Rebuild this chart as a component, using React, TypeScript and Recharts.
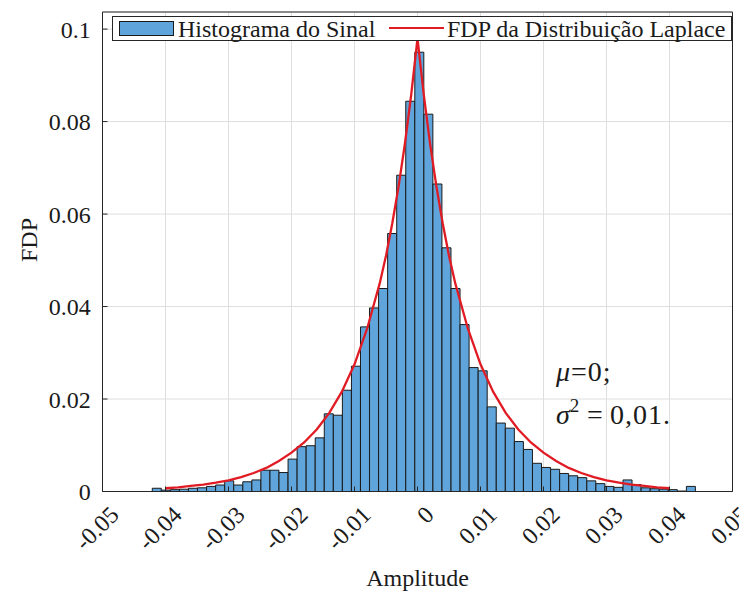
import { ComposedChart, Bar, Line, XAxis, YAxis, CartesianGrid, Label } from 'recharts';

// histogram bins: first edge and width
const binStart = -0.0421;
const binWidth = 0.001437;

const histValues = [
  0.0007, 0.0003, 0.0004, 0.0005, 0.0007, 0.0008, 0.0011, 0.0014, 0.0023, 0.0014,
  0.0021, 0.0025, 0.0046, 0.0046, 0.0041, 0.007, 0.0097, 0.0099, 0.0116, 0.0168,
  0.0165, 0.0219, 0.0271, 0.0356, 0.0397, 0.0439, 0.0558, 0.0684, 0.0844, 0.095,
  0.0816, 0.0665, 0.0527, 0.0439, 0.0361, 0.0268, 0.0261, 0.0183, 0.0148, 0.0137,
  0.0108, 0.0091, 0.0061, 0.0052, 0.0048, 0.0039, 0.0034, 0.003, 0.0023, 0.0017,
  0.0011, 0.0009, 0.0025, 0.0015, 0.0008, 0.0006, 0.0005, 0.0004, 0.0001, 0.0011,
];

// Laplace pdf curve
const pdfX = [
  -0.04, -0.038, -0.036, -0.034, -0.032, -0.03, -0.028, -0.026, -0.024, -0.022,
  -0.02, -0.018, -0.016, -0.014, -0.012, -0.01, -0.008, -0.006, -0.005, -0.004,
  -0.003, -0.002, -0.001, 0, 0.001, 0.002, 0.003, 0.004, 0.005, 0.006,
  0.008, 0.01, 0.012, 0.014, 0.016, 0.018, 0.02, 0.022, 0.024, 0.026,
  0.028, 0.03, 0.032, 0.034, 0.036, 0.038, 0.04,
];
const pdfY = [
  0.0007, 0.0009, 0.0012, 0.0015, 0.0019, 0.0024, 0.0031, 0.004, 0.0051, 0.0066,
  0.0084, 0.0106, 0.0134, 0.017, 0.0216, 0.0275, 0.0352, 0.045, 0.051, 0.058,
  0.066, 0.0752, 0.0858, 0.098, 0.0858, 0.0752, 0.066, 0.058, 0.051, 0.045,
  0.0352, 0.0275, 0.0216, 0.017, 0.0134, 0.0106, 0.0084, 0.0066, 0.0051, 0.004,
  0.0031, 0.0024, 0.0019, 0.0015, 0.0012, 0.0009, 0.0007,
];

const xTicks = [-0.05, -0.04, -0.03, -0.02, -0.01, 0, 0.01, 0.02, 0.03, 0.04, 0.05];
const yTicks = [0, 0.02, 0.04, 0.06, 0.08, 0.1];

const histName = 'Histograma do Sinal';
const pdfName = 'FDP da Distribuição Laplace';

const histData = histValues.map((h, i) => ({ x: binStart + (i + 0.5) * binWidth, h }));
const pdfData = pdfX.map((x, i) => ({ x, pdf: pdfY[i] }));

const W = 739;
const H = 585;
const PLOT = { left: 94.5, right: 724.5, top: 4, bottom: 483.5 };
const X_DOMAIN: [number, number] = [-0.05, 0.05];
const Y_DOMAIN: [number, number] = [0, 0.1037];
const SERIF = '"Liberation Serif", "Times New Roman", serif';
const INK = '#1a1a1a';
const BAR_FILL = '#5fa5db';
const RED = '#e01b24';

const barPx = ((PLOT.right - PLOT.left) * binWidth) / (X_DOMAIN[1] - X_DOMAIN[0]) - 0.05;

function XTick({ x, payload }: any) {
  const ax = x + 12;
  const ay = PLOT.bottom + 19;
  return (
    <text
      x={ax}
      y={ay}
      transform={`rotate(-45 ${ax} ${ay})`}
      textAnchor="end"
      dominantBaseline="central"
      fontFamily={SERIF}
      style={{ fontFamily: SERIF }}
      fontSize={24}
      fill={INK}
    >
      {String(payload.value)}
    </text>
  );
}

export default function App() {
  return (
    <div style={{ position: 'relative', width: W, height: H, background: '#fff', fontFamily: SERIF }}>
      <ComposedChart width={W} height={H} data={histData} margin={{ top: 3, right: 13.5, bottom: 0, left: 0 }}>
        <CartesianGrid xAxisId="bins" yAxisId="left" stroke="#dedede" />
        <XAxis
          xAxisId="bins"
          dataKey="x"
          type="number"
          domain={X_DOMAIN}
          ticks={xTicks}
          interval={0}
          allowDataOverflow
          height={101.5}
          tick={<XTick />}
          tickSize={-5}
          stroke="#262626"
        >
          <Label
            value="Amplitude"
            position="insideBottom"
            offset={7}
            style={{ fontFamily: SERIF, fontSize: 24, fill: INK }}
          />
        </XAxis>
        <XAxis xAxisId="pdf" dataKey="x" type="number" domain={X_DOMAIN} allowDataOverflow hide />
        <XAxis
          xAxisId="top"
          orientation="top"
          type="number"
          domain={X_DOMAIN}
          ticks={xTicks}
          allowDataOverflow
          height={1}
          tick={false}
          tickSize={-5}
          stroke="#262626"
        />
        <YAxis
          yAxisId="left"
          type="number"
          domain={Y_DOMAIN}
          ticks={yTicks}
          allowDataOverflow
          width={94.5}
          tickSize={-5}
          tickMargin={16.8}
          stroke="#262626"
          tick={{ fontFamily: SERIF, fontSize: 24, fill: INK, style: { fontFamily: SERIF } }}
        />
        <YAxis
          yAxisId="right"
          orientation="right"
          type="number"
          domain={Y_DOMAIN}
          ticks={yTicks}
          allowDataOverflow
          width={1}
          tick={false}
          tickSize={-5}
          stroke="#262626"
        />
        <Bar
          xAxisId="bins"
          yAxisId="left"
          dataKey="h"
          name={histName}
          fill={BAR_FILL}
          stroke={INK}
          strokeWidth={1}
          barSize={barPx}
          isAnimationActive={false}
        />
        <Line
          xAxisId="pdf"
          yAxisId="left"
          data={pdfData}
          dataKey="pdf"
          name={pdfName}
          type="linear"
          stroke={RED}
          strokeWidth={2.3}
          dot={false}
          isAnimationActive={false}
        />
      </ComposedChart>

      <svg width={W} height={H} style={{ position: 'absolute', left: 0, top: 0, pointerEvents: 'none' }}>
        <text
          x={21}
          y={232}
          transform="rotate(-90 21 232)"
          textAnchor="middle"
          dominantBaseline="central"
          fontFamily={SERIF}
          fontSize={24}
          fill={INK}
        >
          FDP
        </text>
        <text x={548} y={373} fontFamily={SERIF} fontSize={28} fill={INK} letterSpacing={1}>
          <tspan fontStyle="italic">μ</tspan>=0;
        </text>
        <text x={548} y={416} fontFamily={SERIF} fontSize={28} fill={INK}>
          <tspan fontStyle="italic">σ</tspan>
          <tspan dy={-12} fontSize={19}>2</tspan>
          <tspan dy={12} x={579}>=</tspan>
          <tspan x={602} letterSpacing={1}>0,01.</tspan>
        </text>
      </svg>

      <div
        style={{
          position: 'absolute',
          left: 104,
          top: 7.5,
          width: 620,
          height: 25.5,
          border: '1px solid #262626',
          background: '#fff',
          boxSizing: 'border-box',
          fontFamily: SERIF,
          fontSize: 24,
          color: INK,
          whiteSpace: 'nowrap',
        }}
      >
        <div
          style={{
            position: 'absolute',
            left: 6,
            top: 4,
            width: 55,
            height: 15,
            background: BAR_FILL,
            border: `1px solid ${INK}`,
            boxSizing: 'border-box',
          }}
        />
        <span style={{ position: 'absolute', left: 65, top: 0, lineHeight: '24px' }}>{histName}</span>
        <div style={{ position: 'absolute', left: 276, top: 10.5, width: 55, height: 2, background: RED }} />
        <span style={{ position: 'absolute', left: 334, top: 0, lineHeight: '24px' }}>{pdfName}</span>
      </div>
    </div>
  );
}
